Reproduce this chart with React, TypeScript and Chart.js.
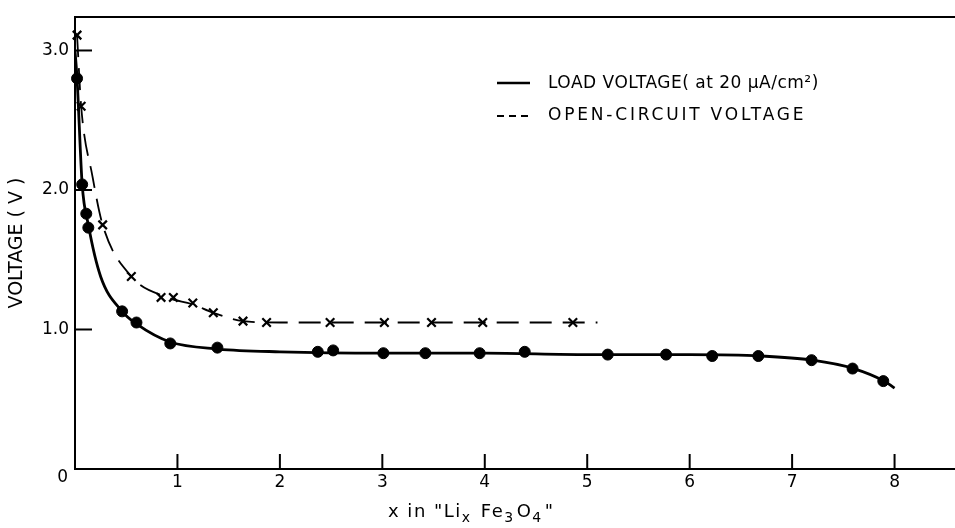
import React, { useEffect, useRef } from 'react';
import { Chart, registerables } from 'chart.js';
Chart.register(...registerables);

const W = 955;
const H = 528;
const FONT = 'DejaVu Sans';

// Smooth curves
const loadCurveX = [0.0, 0.02, 0.07, 0.13, 0.25, 0.46, 0.6, 0.93, 1.4, 2.0, 3.0, 4.0, 5.0, 6.0, 6.7, 7.2, 7.6, 7.9, 8.0];
const loadCurveY = [3.0, 2.8, 2.04, 1.75, 1.38, 1.13, 1.04, 0.91, 0.86, 0.84, 0.83, 0.83, 0.82, 0.82, 0.81, 0.78, 0.72, 0.63, 0.58];
const ocvCurveX = [0.02, 0.06, 0.17, 0.27, 0.55, 0.9, 1.15, 1.35, 1.64, 2.0, 3.0, 4.0, 5.1];
const ocvCurveY = [3.11, 2.6, 2.1, 1.75, 1.38, 1.23, 1.18, 1.12, 1.06, 1.05, 1.05, 1.05, 1.05];

// Measured points
const loadPtsX = [0.02, 0.07, 0.11, 0.13, 0.46, 0.6, 0.93, 1.39, 2.37, 2.52, 3.01, 3.42, 3.95, 4.39, 5.2, 5.77, 6.22, 6.67, 7.19, 7.59, 7.89];
const loadPtsY = [2.8, 2.04, 1.83, 1.73, 1.13, 1.05, 0.9, 0.87, 0.84, 0.85, 0.83, 0.83, 0.83, 0.84, 0.82, 0.82, 0.81, 0.81, 0.78, 0.72, 0.63];
const ocvPtsX = [0.02, 0.06, 0.27, 0.55, 0.84, 0.96, 1.15, 1.35, 1.64, 1.87, 2.49, 3.02, 3.48, 3.98, 4.86];
const ocvPtsY = [3.11, 2.6, 1.75, 1.38, 1.23, 1.23, 1.19, 1.12, 1.06, 1.05, 1.05, 1.05, 1.05, 1.05, 1.05];

const legendLabels = ['LOAD VOLTAGE( at 20 μA/cm²)', 'OPEN-CIRCUIT VOLTAGE'];
const originLabel = '0';
// x-axis title pieces: [text, isSubscript]
const xTitleParts: [string, boolean][] = [
  ['x in "Li', false],
  ['x', true],
  [' Fe', false],
  ['3', true],
  ['O', false],
  ['4', true],
  ['"', false],
];
const yTitle = 'VOLTAGE ( V )';

const zip = (xs: number[], ys: number[]) => xs.map((x, i) => ({ x, y: ys[i] }));

const framePlugin = {
  id: 'frame',
  afterDraw(chart: any) {
    const { ctx, chartArea } = chart;
    const xs = chart.scales.x;
    const ys = chart.scales.y;
    ctx.save();
    ctx.strokeStyle = '#000';
    ctx.lineWidth = 2;
    // top frame line
    ctx.beginPath();
    ctx.moveTo(chartArea.left, chartArea.top);
    ctx.lineTo(chartArea.right, chartArea.top);
    ctx.stroke();
    // inward ticks
    xs.ticks.forEach((t: any) => {
      if (t.value <= 0) return;
      const px = xs.getPixelForValue(t.value);
      ctx.beginPath();
      ctx.moveTo(px, chartArea.bottom);
      ctx.lineTo(px, chartArea.bottom - 15);
      ctx.stroke();
    });
    ys.ticks.forEach((t: any) => {
      if (t.value <= 0) return;
      const py = ys.getPixelForValue(t.value);
      ctx.beginPath();
      ctx.moveTo(chartArea.left, py);
      ctx.lineTo(chartArea.left + 17, py);
      ctx.stroke();
    });
    ctx.fillStyle = '#000';
    // shared origin label
    ctx.font = `17px "${FONT}"`;
    ctx.textAlign = 'right';
    ctx.textBaseline = 'middle';
    ctx.fillText(originLabel, chartArea.left - 7, chartArea.bottom + 9);
    // legend
    ctx.textAlign = 'left';
    ctx.lineWidth = 2.5;
    ctx.beginPath();
    ctx.moveTo(497, 83);
    ctx.lineTo(530, 83);
    ctx.stroke();
    (ctx as any).letterSpacing = '0.5px';
    ctx.fillText(legendLabels[0], 548, 84);
    ctx.lineWidth = 2;
    ctx.setLineDash([7, 5]);
    ctx.beginPath();
    ctx.moveTo(497, 116);
    ctx.lineTo(532, 116);
    ctx.stroke();
    ctx.setLineDash([]);
    (ctx as any).letterSpacing = '2.8px';
    ctx.fillText(legendLabels[1], 548, 116);
    (ctx as any).letterSpacing = '1.5px';
    // x-axis title with subscripts
    let cx = 388;
    const baseY = 517;
    ctx.textBaseline = 'alphabetic';
    xTitleParts.forEach(([txt, sub]) => {
      ctx.font = sub ? `14px "${FONT}"` : `18px "${FONT}"`;
      ctx.fillText(txt, cx, sub ? baseY + 5 : baseY);
      cx += ctx.measureText(txt).width + (sub ? 2 : 0);
    });
    ctx.restore();
  },
};

export default function App() {
  const ref = useRef<HTMLCanvasElement>(null);
  useEffect(() => {
    const chart = new Chart(ref.current as HTMLCanvasElement, {
      type: 'scatter',
      data: {
        datasets: [
          {
            label: 'load curve',
            data: zip(loadCurveX, loadCurveY),
            showLine: true,
            borderColor: '#000',
            borderWidth: 2.8,
            pointRadius: 0,
            cubicInterpolationMode: 'monotone',
          },
          {
            label: 'ocv curve',
            data: zip(ocvCurveX, ocvCurveY),
            showLine: true,
            borderColor: '#000',
            borderWidth: 1.8,
            borderDash: [22, 11],
            pointRadius: 0,
            cubicInterpolationMode: 'monotone',
          },
          {
            label: legendLabels[0],
            data: zip(loadPtsX, loadPtsY),
            showLine: false,
            pointStyle: 'circle',
            pointRadius: 5.5,
            backgroundColor: '#000',
            borderColor: '#000',
            clip: false,
          },
          {
            label: legendLabels[1],
            data: zip(ocvPtsX, ocvPtsY),
            showLine: false,
            pointStyle: 'crossRot',
            pointRadius: 6,
            borderWidth: 2.2,
            borderColor: '#000',
            backgroundColor: '#000',
            clip: false,
          },
        ],
      } as any,
      options: {
        responsive: false,
        animation: false,
        events: [],
        layout: { autoPadding: false, padding: { top: 17, right: 0, bottom: 0, left: 0 } },
        plugins: { legend: { display: false }, tooltip: { enabled: false } },
        scales: {
          x: {
            type: 'linear',
            min: 0,
            max: 8.59,
            grid: { display: false, drawTicks: false },
            border: { display: true, color: '#000', width: 2 },
            ticks: {
              stepSize: 1,
              includeBounds: false,
              autoSkip: false,
              maxRotation: 0,
              padding: 3,
              color: '#000',
              font: { family: FONT, size: 17 },
              callback: (v: any) => (v === 0 ? '' : String(v)),
            },
            title: { display: false },
            afterFit: (s: any) => {
              s.height = 59;
              s.paddingLeft = 0;
              s.paddingRight = 0;
            },
          },
          y: {
            type: 'linear',
            min: 0,
            max: 3.24,
            grid: { display: false, drawTicks: false },
            border: { display: true, color: '#000', width: 2 },
            ticks: {
              stepSize: 1,
              includeBounds: false,
              padding: 6,
              color: '#000',
              font: { family: FONT, size: 17 },
              callback: (v: any) => (v === 0 ? '' : Number(v).toFixed(1)),
            },
            title: {
              display: true,
              text: yTitle,
              color: '#000',
              font: { family: FONT, size: 19 },
              padding: { top: 6, bottom: 0 },
            },
            afterFit: (s: any) => {
              s.width = 75;
              s.paddingTop = 0;
              s.paddingBottom = 0;
            },
          },
        },
      } as any,
      plugins: [framePlugin],
    });
    return () => chart.destroy();
  }, []);
  return (
    <div style={{ position: 'fixed', left: 0, top: 0, width: W, height: H, background: '#fff' }}>
      <canvas ref={ref} width={W} height={H} style={{ width: W, height: H, display: 'block' }} />
    </div>
  );
}
